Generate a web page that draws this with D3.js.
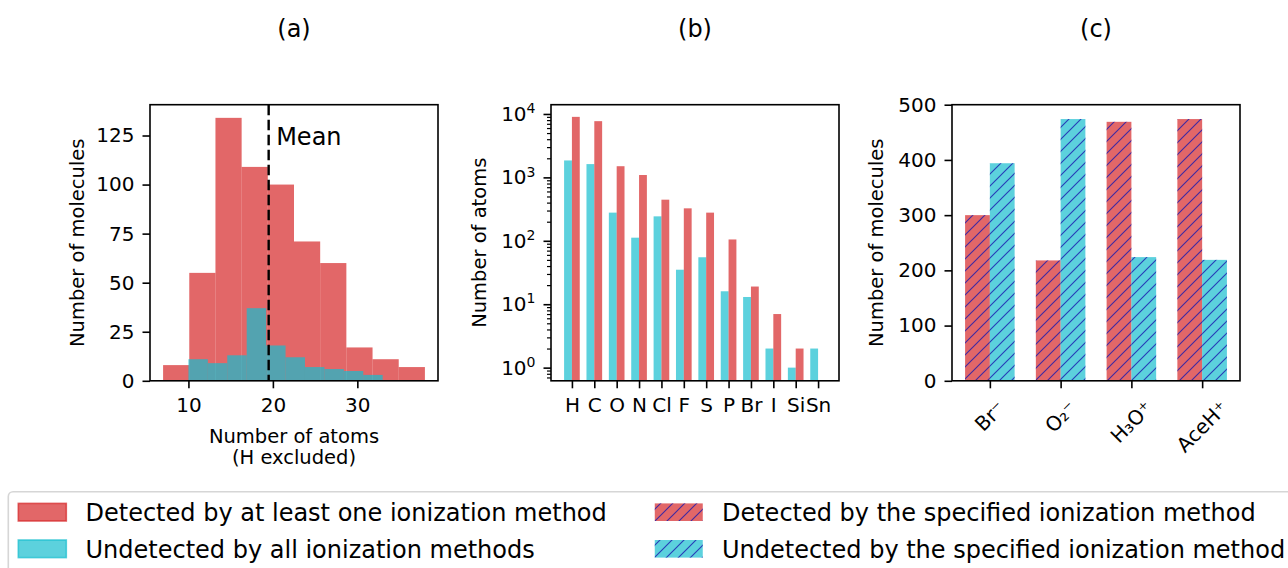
<!DOCTYPE html>
<html><head><meta charset="utf-8">
<script src="https://cdn.jsdelivr.net/npm/d3@7"></script>
<style>
body{margin:0;background:#fff}
svg{display:block}
text{font-family:"DejaVu Sans",sans-serif;fill:#000}
</style>
</head><body>
<svg id="chart" width="1288" height="568"></svg>
<script>
// ---------------- data ----------------
const histDetectedEdges = [7, 10.1, 13.2, 16.3, 19.4, 22.5, 25.6, 28.7, 31.8, 34.9, 38];
const histDetectedCounts = [8, 55, 134, 109, 100, 71, 60, 17, 11, 7];
const histUndetectedEdges = [10, 12.3, 14.6, 16.9, 19.2, 21.5, 23.8, 26.1, 28.4, 30.7, 33];
const histUndetectedCounts = [11, 9, 13, 37, 18, 12, 7, 6, 5, 3];
const meanAtoms = 19.5;
const histYTicks = [0, 25, 50, 75, 100, 125];
const histXTicks = [10, 20, 30];

const elements = ["H", "C", "O", "N", "Cl", "F", "S", "P", "Br", "I", "Si", "Sn"];
const elementsUndetected = [1850, 1620, 278, 112, 243, 35, 55, 16, 13, 2, 1, 2];
const elementsDetected = [9000, 7700, 1500, 1090, 445, 325, 278, 105, 19, 7, 2, null];
const logTickExponents = [0, 1, 2, 3, 4];

const methods = ["Br⁻", "O₂⁻", "H₃O⁺", "AceH⁺"];
const methodDetected = [300, 218, 469, 474];
const methodUndetected = [394, 474, 224, 219];
const methodYTicks = [0, 100, 200, 300, 400, 500];

const panelTitles = ["(a)", "(b)", "(c)"];
const legendLeft = ["Detected by at least one ionization method", "Undetected by all ionization methods"];
const legendRight = ["Detected by the specified ionization method", "Undetected by the specified ionization method"];

// ---------------- style ----------------
const RED = "#d62728", CYAN = "#17becf", ALPHA = 0.7;
const TICK_FS = 20, LABEL_FS = 19.5, TITLE_FS = 24, LEG_FS = 24;
const TICK_LEN = 7.5, TICK_PAD = 8;
const FRAME_W = 1.6;

const svg = d3.select("#chart");
const defs = svg.append("defs");
const pat = defs.append("pattern").attr("id", "hatch")
  .attr("patternUnits", "userSpaceOnUse").attr("width", 12).attr("height", 12);
pat.append("path").attr("d", "M-3,3 L3,-3 M0,12 L12,0 M9,15 L15,9")
  .attr("stroke", "rgba(25,25,175,0.8)").attr("stroke-width", 1.15).attr("fill", "none");

const axTop = 104.7, axBottom = 380.8;
const panels = [
  {x0: 150, x1: 438},
  {x0: 551, x1: 839},
  {x0: 952, x1: 1240}
];

function styleAxis(g) {
  g.select(".domain").remove();
  g.selectAll(".tick line").attr("stroke", "#000").attr("stroke-width", FRAME_W);
  g.selectAll(".tick text").attr("font-size", TICK_FS).attr("font-family", "DejaVu Sans");
}
function frame(p) {
  svg.append("rect").attr("x", p.x0).attr("y", axTop).attr("width", p.x1 - p.x0).attr("height", axBottom - axTop)
    .attr("fill", "none").attr("stroke", "#000").attr("stroke-width", FRAME_W);
}
function yLabel(x, text) {
  svg.append("text").attr("transform", `translate(${x},${(axTop + axBottom) / 2}) rotate(-90)`)
    .attr("text-anchor", "middle").attr("font-size", LABEL_FS).text(text);
}
function title(p, t) {
  svg.append("text").attr("x", (p.x0 + p.x1) / 2).attr("y", 37).attr("text-anchor", "middle")
    .attr("font-size", TITLE_FS).text(t);
}

// ---------------- panel (a) ----------------
{
  const p = panels[0];
  const xmin = d3.min(histDetectedEdges), xmax = d3.max(histDetectedEdges);
  const m = (xmax - xmin) * 0.05;
  const x = d3.scaleLinear().domain([xmin - m, xmax + m]).range([p.x0, p.x1]);
  const y = d3.scaleLinear().domain([0, d3.max(histDetectedCounts) * 1.05]).range([axBottom, axTop]);

  svg.append("g").selectAll("rect").data(histDetectedCounts).join("rect")
    .attr("x", (d, i) => x(histDetectedEdges[i]))
    .attr("width", (d, i) => x(histDetectedEdges[i + 1]) - x(histDetectedEdges[i]))
    .attr("y", d => y(d)).attr("height", d => y(0) - y(d))
    .attr("fill", RED).attr("fill-opacity", ALPHA);
  svg.append("g").selectAll("rect").data(histUndetectedCounts).join("rect")
    .attr("x", (d, i) => x(histUndetectedEdges[i]))
    .attr("width", (d, i) => x(histUndetectedEdges[i + 1]) - x(histUndetectedEdges[i]))
    .attr("y", d => y(d)).attr("height", d => y(0) - y(d))
    .attr("fill", CYAN).attr("fill-opacity", ALPHA);

  svg.append("line").attr("x1", x(meanAtoms)).attr("x2", x(meanAtoms)).attr("y1", axTop).attr("y2", axBottom)
    .attr("stroke", "#000").attr("stroke-width", 2.4).attr("stroke-dasharray", "10.5,4.5");
  svg.append("text").attr("x", x(meanAtoms) + 7.5).attr("y", y(120)).attr("font-size", 24).text("Mean");

  svg.append("g").attr("transform", `translate(0,${axBottom})`)
    .call(d3.axisBottom(x).tickValues(histXTicks).tickSize(TICK_LEN).tickPadding(TICK_PAD + 2).tickFormat(d3.format("d")))
    .call(styleAxis);
  svg.append("g").attr("transform", `translate(${p.x0},0)`)
    .call(d3.axisLeft(y).tickValues(histYTicks).tickSize(TICK_LEN).tickPadding(TICK_PAD).tickFormat(d3.format("d")))
    .call(styleAxis);
  frame(p);
  yLabel(84, "Number of molecules");
  const cx = (p.x0 + p.x1) / 2;
  svg.append("text").attr("x", cx).attr("y", 443).attr("text-anchor", "middle").attr("font-size", LABEL_FS).text("Number of atoms");
  svg.append("text").attr("x", cx).attr("y", 464).attr("text-anchor", "middle").attr("font-size", LABEL_FS).text("(H excluded)");
  title(p, panelTitles[0]);
}

// ---------------- panel (b) ----------------
{
  const p = panels[1];
  const bw = 0.35;
  const x = d3.scaleLinear().domain([-0.935, elements.length - 1 + 0.935]).range([p.x0, p.x1]);
  const y = d3.scaleLog().domain([0.62, 14000]).range([axBottom, axTop]);
  const cats = elements.map((e, i) => i);
  svg.append("g").selectAll("rect").data(elementsUndetected).join("rect")
    .attr("x", (d, i) => x(i - bw)).attr("width", x(bw) - x(0))
    .attr("y", d => y(d)).attr("height", d => axBottom - y(d))
    .attr("fill", CYAN).attr("fill-opacity", ALPHA);
  svg.append("g").selectAll("rect").data(elementsDetected.map((v, i) => ({v, i})).filter(d => d.v))
    .join("rect")
    .attr("x", d => x(d.i)).attr("width", x(bw) - x(0))
    .attr("y", d => y(d.v)).attr("height", d => axBottom - y(d.v))
    .attr("fill", RED).attr("fill-opacity", ALPHA);

  svg.append("g").attr("transform", `translate(0,${axBottom})`)
    .call(d3.axisBottom(x).tickValues(cats).tickSize(TICK_LEN).tickPadding(TICK_PAD + 2).tickFormat(i => elements[i]))
    .call(styleAxis);
  const minor = [];
  for (let e = -1; e <= 4; e++) for (let k = 2; k <= 9; k++) {
    const v = k * Math.pow(10, e);
    if (v > 0.62 && v < 14000) minor.push(v);
  }
  svg.append("g").attr("transform", `translate(${p.x0},0)`)
    .call(d3.axisLeft(y).tickValues(minor).tickSize(4).tickFormat(""))
    .call(g => { g.select(".domain").remove(); g.selectAll(".tick line").attr("stroke", "#000").attr("stroke-width", 1.2); });
  const ya = svg.append("g").attr("transform", `translate(${p.x0},0)`)
    .call(d3.axisLeft(y).tickValues(logTickExponents.map(e => Math.pow(10, e))).tickSize(TICK_LEN).tickPadding(TICK_PAD))
    .call(styleAxis);
  ya.selectAll(".tick text").each(function(d) {
    const t = d3.select(this);
    const ex = Math.round(Math.log10(d));
    t.text(null).attr("dy", "0.32em");
    t.append("tspan").text("10");
    t.append("tspan").attr("font-size", 14).attr("dy", "-0.55em").text(String(ex));
  });
  frame(p);
  yLabel(486, "Number of atoms");
  title(p, panelTitles[1]);
}

// ---------------- panel (c) ----------------
{
  const p = panels[2];
  const bw = 0.35;
  const x = d3.scaleLinear().domain([-0.535, methods.length - 1 + 0.535]).range([p.x0, p.x1]);
  const y = d3.scaleLinear().domain([0, 500]).range([axBottom, axTop]);
  const groups = [
    {vals: methodDetected, off: -bw, color: RED},
    {vals: methodUndetected, off: 0, color: CYAN}
  ];
  groups.forEach(gr => {
    const g = svg.append("g");
    g.selectAll("rect.face").data(gr.vals).join("rect").attr("class", "face")
      .attr("x", (d, i) => x(i + gr.off)).attr("width", x(bw) - x(0))
      .attr("y", d => y(d)).attr("height", d => y(0) - y(d))
      .attr("fill", gr.color).attr("fill-opacity", ALPHA);
    g.selectAll("rect.hatch").data(gr.vals).join("rect").attr("class", "hatch")
      .attr("x", (d, i) => x(i + gr.off)).attr("width", x(bw) - x(0))
      .attr("y", d => y(d)).attr("height", d => y(0) - y(d))
      .attr("fill", "url(#hatch)");
  });
  svg.append("g").attr("transform", `translate(${p.x0},0)`)
    .call(d3.axisLeft(y).tickValues(methodYTicks).tickSize(TICK_LEN).tickPadding(TICK_PAD).tickFormat(d3.format("d")))
    .call(styleAxis);
  svg.append("g").attr("transform", `translate(0,${axBottom})`)
    .call(d3.axisBottom(x).tickValues(methods.map((m, i) => i)).tickSize(TICK_LEN).tickFormat(""))
    .call(styleAxis);
  methods.forEach((m, i) => {
    const t = svg.append("text").attr("font-size", TICK_FS).attr("text-anchor", "middle")
      .attr("dominant-baseline", "central").text(m);
    const w = t.node().getComputedTextLength();
    const h = TICK_FS * 1.16;
    const half = (w + h) / Math.SQRT2 / 2;
    t.attr("transform", `translate(${x(i)},${axBottom + TICK_LEN + TICK_PAD + half}) rotate(-45)`);
  });
  frame(p);
  yLabel(883, "Number of molecules");
  title(p, panelTitles[2]);
}

// ---------------- legend ----------------
{
  const lg = svg.append("g");
  lg.append("rect").attr("x", 8.3).attr("y", 491.7).attr("width", 1320).attr("height", 130).attr("rx", 4.8)
    .attr("fill", "#fff").attr("stroke", "#d6d6d6").attr("stroke-width", 1.6);
  const rowY = [512.2, 548.8];
  const hx0 = 18.3, hw = 48, hh = 17.6, gap = 19.2, colSpace = 48;
  let maxW = 0;
  legendLeft.forEach((lab, i) => {
    const c = i === 0 ? RED : CYAN;
    lg.append("rect").attr("x", hx0).attr("y", rowY[i] - hh / 2).attr("width", hw).attr("height", hh)
      .attr("fill", c).attr("fill-opacity", ALPHA).attr("stroke", c).attr("stroke-opacity", ALPHA).attr("stroke-width", 1.6);
    const t = lg.append("text").attr("x", hx0 + hw + gap).attr("y", rowY[i] + 8.7).attr("font-size", LEG_FS).text(lab);
    maxW = Math.max(maxW, t.node().getComputedTextLength());
  });
  const hx1 = hx0 + hw + gap + maxW + colSpace;
  legendRight.forEach((lab, i) => {
    const c = i === 0 ? RED : CYAN;
    lg.append("rect").attr("x", hx1).attr("y", rowY[i] - hh / 2).attr("width", hw).attr("height", hh)
      .attr("fill", c).attr("fill-opacity", ALPHA);
    lg.append("rect").attr("x", hx1).attr("y", rowY[i] - hh / 2).attr("width", hw).attr("height", hh)
      .attr("fill", "url(#hatch)");
    lg.append("text").attr("x", hx1 + hw + gap).attr("y", rowY[i] + 8.7).attr("font-size", LEG_FS).text(lab);
  });
}
</script>
</body></html>
